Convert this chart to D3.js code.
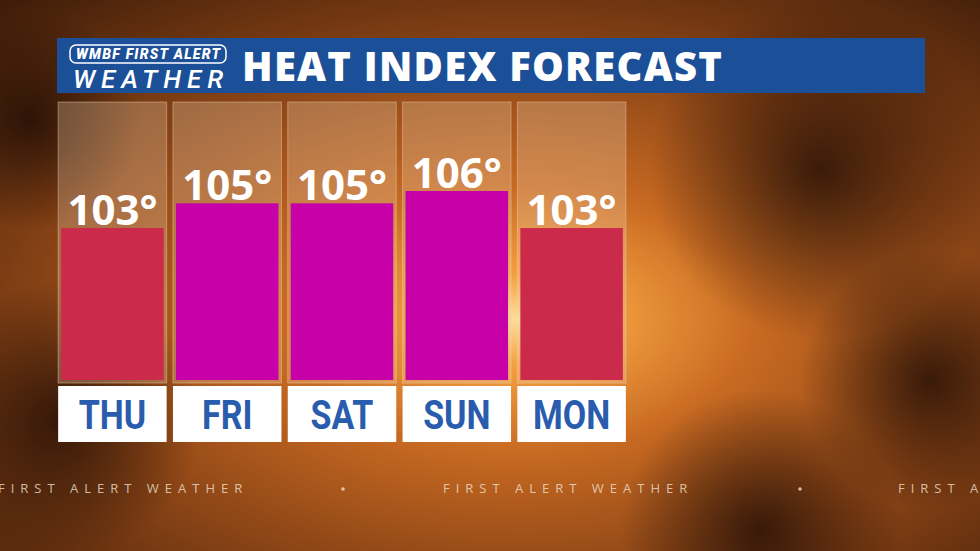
<!DOCTYPE html>
<html><head><meta charset="utf-8">
<script src="https://cdn.jsdelivr.net/npm/d3@7"></script>
<style>body{margin:0;background:#000}svg{display:block}</style>
</head><body>
<svg id="c" width="980" height="551"></svg>
<script>
const days = ["THU","FRI","SAT","SUN","MON"];
const heatIndex = [103,105,105,106,103];
const valueLabels = ["103°","105°","105°","106°","103°"];
const title = "HEAT INDEX FORECAST";

const svg = d3.select("#c");
const defs = svg.append("defs");
const rg = defs.append("radialGradient").attr("id","bg").attr("cx","0.53").attr("cy","0.58").attr("r","0.8");
[[0,"#ffe09a"],[0.1,"#f5a040"],[0.3,"#c86a22"],[0.6,"#8a4416"],[1,"#3a1a08"]].forEach(([o,c])=>rg.append("stop").attr("offset",o).attr("stop-color",c));
svg.append("rect").attr("width",980).attr("height",551).attr("fill","url(#bg)");
const cg = defs.append("radialGradient").attr("id","cl");
cg.append("stop").attr("offset",0).attr("stop-color","#1a0a04").attr("stop-opacity",0.75);
cg.append("stop").attr("offset",1).attr("stop-color","#1a0a04").attr("stop-opacity",0);
[[820,170,170],[930,380,130],[60,420,140],[760,530,140],[30,120,110]].forEach(([x,y,r])=>svg.append("circle").attr("cx",x).attr("cy",y).attr("r",r).attr("fill","url(#cl)"));

svg.append("rect").attr("x",57).attr("y",38).attr("width",868).attr("height",55).attr("fill","#1b4f98");
svg.append("rect").attr("x",70).attr("y",45).attr("width",156).attr("height",18).attr("rx",6).attr("fill","none").attr("stroke","#fff").attr("stroke-width",1.5);
svg.append("text").attr("x",148).attr("y",59).attr("text-anchor","middle").attr("fill","#fff")
  .attr("font-family","Roboto").attr("font-weight",900).attr("font-style","italic").attr("font-size",14).attr("textLength",144).text("WMBF FIRST ALERT");
svg.append("text").attr("x",148).attr("y",88).attr("text-anchor","middle").attr("fill","#fff")
  .attr("font-family","Roboto").attr("font-weight",500).attr("font-style","italic").attr("font-size",26).attr("textLength",150).text("WEATHER");
svg.append("text").attr("x",242).attr("y",81).attr("fill","#fff").attr("font-family","'Open Sans'").attr("font-weight",800)
  .attr("font-size",40).attr("textLength",480).text(title);

const x = d3.scaleBand().domain(days).range([57,627]).paddingInner(0.055).paddingOuter(0.01);
const y = d3.scaleLinear().domain([90.7,106]).range([380,191]);

const g = svg.append("g").selectAll("g").data(days).join("g");
g.append("rect").attr("x",d=>x(d)).attr("y",102).attr("width",x.bandwidth()).attr("height",281)
  .attr("fill","#f0d0b0").attr("fill-opacity",0.3).attr("stroke","#f0d0b0").attr("stroke-opacity",0.45);
g.append("rect").attr("x",d=>x(d)+3).attr("y",(d,i)=>y(heatIndex[i])).attr("width",x.bandwidth()-6)
  .attr("height",(d,i)=>380-y(heatIndex[i])).attr("fill",(d,i)=>heatIndex[i]>=105?"#c800a8":"#cc2a4a");
g.append("text").attr("x",d=>x(d)+x.bandwidth()/2).attr("y",(d,i)=>y(heatIndex[i])-3).attr("text-anchor","middle")
  .attr("fill","#fff").attr("font-family","'Open Sans'").attr("font-weight",700).attr("font-size",42).text((d,i)=>valueLabels[i]);
g.append("rect").attr("x",d=>x(d)).attr("y",386).attr("width",x.bandwidth()).attr("height",56).attr("fill","#fff");
g.append("text").attr("x",d=>x(d)+x.bandwidth()/2).attr("y",429).attr("text-anchor","middle").attr("fill","#2a5cae")
  .attr("font-family","Roboto").attr("font-weight",700).attr("font-size",40).attr("transform",d=>`translate(${x(d)+x.bandwidth()/2},0) scale(0.85,1) translate(${-(x(d)+x.bandwidth()/2)},0)`).text(d=>d);

const tk = svg.append("g").attr("fill","#f0e0d0").attr("fill-opacity",0.8).attr("font-family","'Open Sans'").attr("font-size",13).attr("letter-spacing",6);
[[-2,"FIRST ALERT WEATHER"],[443,"FIRST ALERT WEATHER"],[898,"FIRST ALERT"]].forEach(([px,t])=>tk.append("text").attr("x",px).attr("y",493).text(t));
[343,800].forEach(px=>tk.append("circle").attr("cx",px).attr("cy",489).attr("r",1.8));
</script>
</body></html>
